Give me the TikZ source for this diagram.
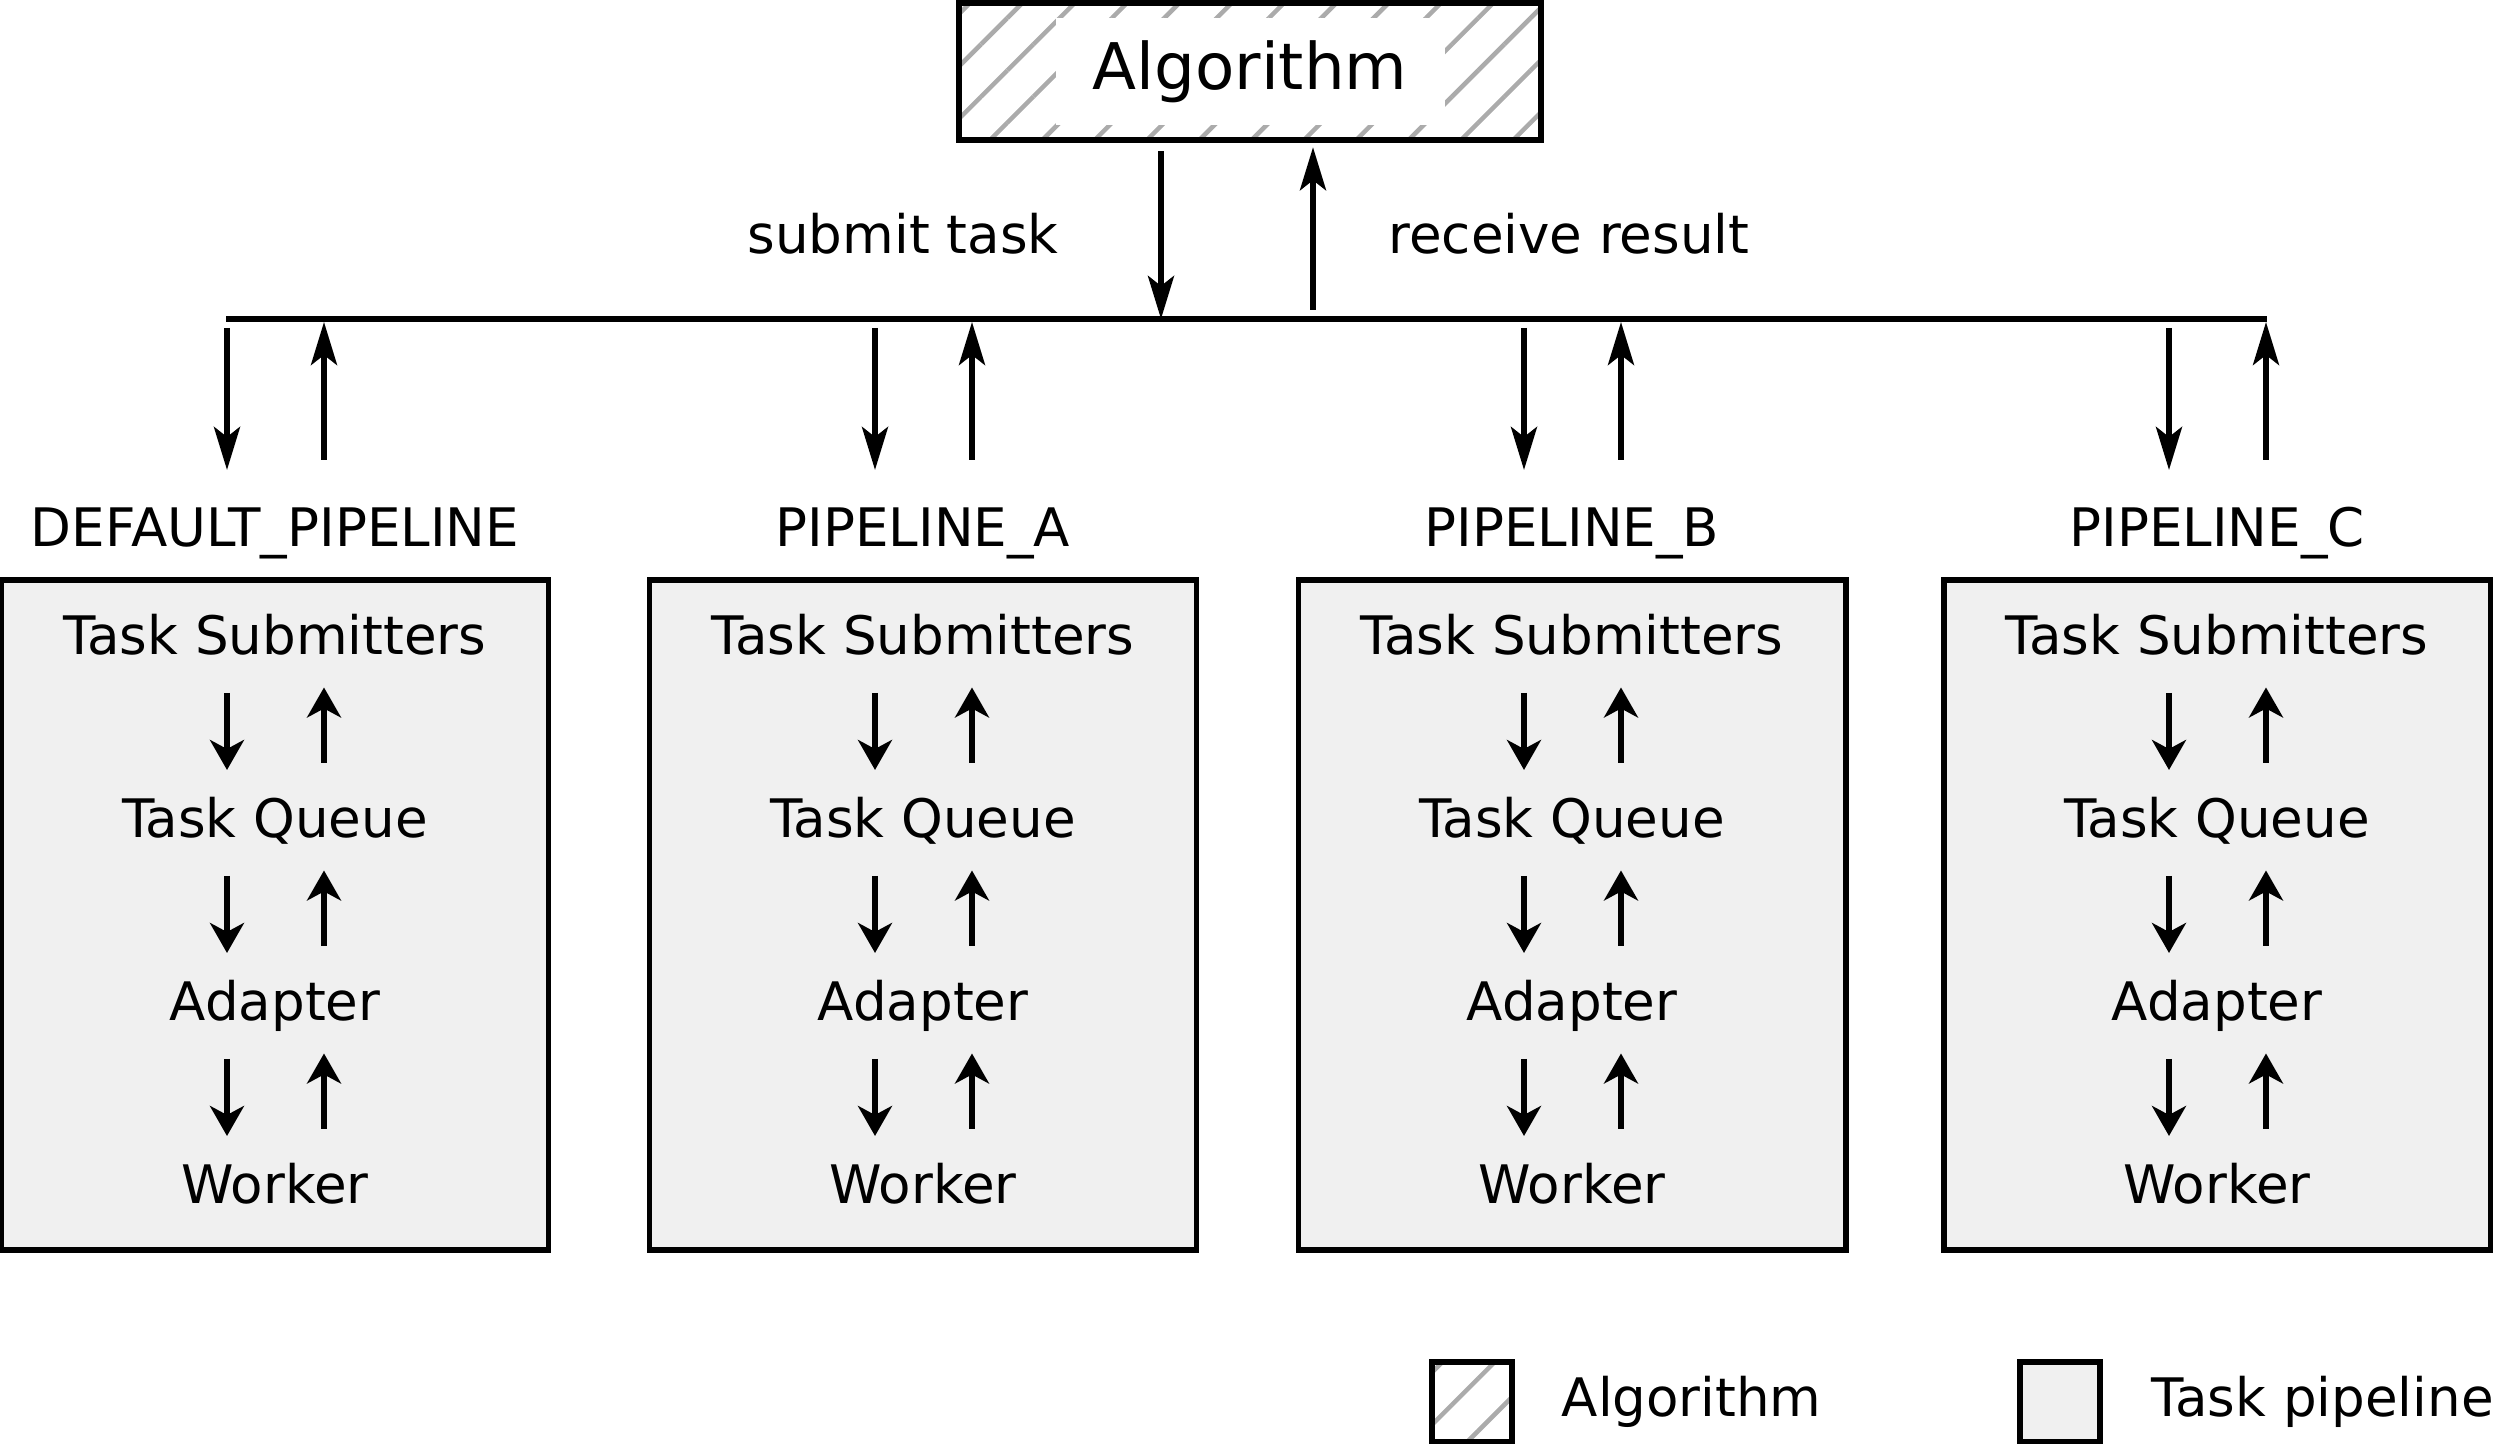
\documentclass[tikz,border=0pt]{standalone}
\usepackage{fontspec}
\setmainfont{DejaVu Sans}
\usetikzlibrary{arrows.meta,calc,patterns.meta}
\tikzset{
	pipebox/.style={draw, line width=1.7pt, fill=black!6, minimum width=5.47cm, minimum height=6.7cm},
	algobox/.style={draw, line width=1.7pt, pattern={Lines[angle=45,distance=0.37cm,line width=0.045cm]}, pattern color=black!33},
	bigarrow/.style={line width=1.6pt, -{Stealth[length=0.43cm,width=0.26cm,inset=0.1cm]}},
	smallarrow/.style={line width=1.6pt, -{Stealth[length=0.3cm,width=0.34cm,inset=0.09cm]}}
}
\begin{document}
\begin{tikzpicture}[font=\fontsize{15.1}{18.1}\selectfont]
	\useasboundingbox (0,0) rectangle (24.93,14.44);
	\node[algobox, minimum width=5.82cm, minimum height=1.37cm] (algo) at (12.50,13.725) {};
	\node[fill=white, inner sep=0pt, minimum width=3.89cm, minimum height=1.07cm, font=\fontsize{18.3}{22}\selectfont] (algotext) at (algo) {Algorithm};
	\coordinate (busl) at (2.26,11.25);
	\coordinate (busr) at (22.67,11.25);
	\draw[line width=1.7pt] (busl) -- (busr);
	\coordinate (submit) at (11.61,11.25);
	\coordinate (receive) at (13.13,11.25);
	\draw[bigarrow] ($(algo.south -| submit)+(0,-0.09)$) -- (submit);
	\draw[bigarrow] ($(receive)+(0,0.09)$) -- ($(algo.south -| receive)+(0,-0.05)$);
	\node[anchor=base] (submitlabel) at (9.03,11.90) {submit task};
	\node[anchor=base] (receivelabel) at (15.69,11.90) {receive result};
	\foreach \cx/\pname/\id in {2.75/DEFAULT\_PIPELINE/p0, 9.23/PIPELINE\_A/pa, 15.72/PIPELINE\_B/pb, 22.17/PIPELINE\_C/pc}{
		\node[pipebox] (\id) at (\cx,5.29) {};
		\node[anchor=base] (\id-name) at (\cx,8.97) {\pname};
		\draw[bigarrow] ($(busl -| \id-name)+(-0.48,-0.09)$) -- ($(\id-name.base)+(-0.48,0.77)$);
		\draw[bigarrow] ($(\id-name.base)+(0.49,0.87)$) -- ($(busl -| \id-name)+(0.49,-0.03)$);
		\foreach \t [count=\k] in {Task Submitters, Task Queue, Adapter, Worker}
			\node[anchor=base] (\id-\k) at (\cx,{7.89-(\k-1)*1.83}) {\t};
		\foreach \a/\b in {1/2,2/3,3/4}{
			\draw[smallarrow] ($(\id-\a.base)+(-0.48,-0.38)$) -- ($(\id-\b.base)+(-0.48,0.68)$);
			\draw[smallarrow] ($(\id-\b.base)+(0.49,0.75)$) -- ($(\id-\a.base)+(0.49,-0.325)$);
		}
	}
	\node[algobox, minimum size=0.8cm] (legalgo) at (14.72,0.42) {};
	\node[anchor=base west, inner sep=0pt] (legalgotext) at (15.61,0.27) {Algorithm};
	\node[pipebox, minimum size=0.8cm] (legpipe) at (20.60,0.42) {};
	\node[anchor=base west, inner sep=0pt] (legpipetext) at (21.51,0.27) {Task pipeline};
\end{tikzpicture}
\end{document}
